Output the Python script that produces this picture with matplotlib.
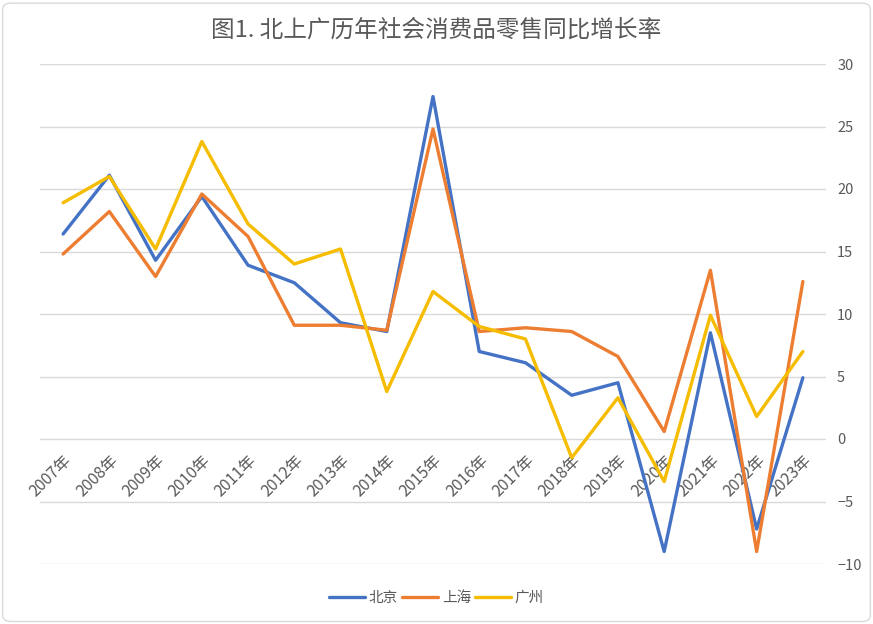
import numpy as np
import matplotlib.pyplot as plt
from matplotlib.patches import FancyBboxPatch

plt.rcParams['font.family'] = ['Noto Sans CJK SC', 'DejaVu Sans']

years = [f'{y}年' for y in range(2007, 2024)]
beijing = [16.4, 21.1, 14.3, 19.4, 13.9, 12.5, 9.3, 8.6, 27.4, 7.0, 6.1, 3.5, 4.5, -9.0, 8.5, -7.2, 4.9]
shanghai = [14.8, 18.2, 13.0, 19.6, 16.2, 9.1, 9.1, 8.7, 24.8, 8.6, 8.9, 8.6, 6.6, 0.6, 13.5, -9.0, 12.6]
guangzhou = [18.9, 21.0, 15.2, 23.8, 17.2, 14.0, 15.2, 3.8, 11.8, 9.0, 8.0, -1.5, 3.3, -3.4, 9.9, 1.8, 7.0]
yticks = [-10, -5, 0, 5, 10, 15, 20, 25, 30]

text_color = '#595959'
grid_color = '#d9d9d9'

fig = plt.figure(figsize=(8.73, 6.24), dpi=100)
ax = fig.add_axes([40 / 873, 1 - 564 / 624, 786 / 873, 500 / 624])

x = np.arange(len(years))
ax.plot(x, beijing, color='#4472C4', lw=2.4, label='北京', solid_capstyle='round')
ax.plot(x, shanghai, color='#ED7D31', lw=2.4, label='上海', solid_capstyle='round')
ax.plot(x, guangzhou, color='#F5BC00', lw=2.4, label='广州', solid_capstyle='round')

ax.set_xlim(-0.5, len(years) - 0.5)
ax.set_ylim(-10, 30)
ax.set_yticks(yticks)
ax.yaxis.tick_right()
ax.tick_params(axis='y', length=0, labelsize=10.5, labelcolor=text_color, pad=8)
ax.grid(axis='y', color=grid_color, lw=1)
ax.set_axisbelow(True)

# category labels sit on the zero line
ax.spines['bottom'].set_position(('data', 0))
ax.set_xticks(x)
ax.set_xticklabels(years, rotation=45, ha='right', rotation_mode='anchor')
ax.tick_params(axis='x', length=0, labelsize=11.5, labelcolor=text_color, pad=9)
for s in ax.spines.values():
    s.set_visible(False)

fig.text(0.5, 1 - 30 / 624, '图1. 北上广历年社会消费品零售同比增长率', ha='center', va='center',
         fontsize=17, color=text_color)

fig.legend(loc='center', bbox_to_anchor=(0.5, 1 - 598 / 624), ncol=3, frameon=False,
           fontsize=10.5, labelcolor=text_color, handlelength=2.5, columnspacing=0.25,
           handletextpad=0.25)

fig.patches.append(FancyBboxPatch((0.003, 0.004), 0.994, 0.991, boxstyle='round,pad=0,rounding_size=0.01',
                                  transform=fig.transFigure, fill=False, ec='#d9d9d9', lw=1))

fig.savefig('out.png', dpi=100)
